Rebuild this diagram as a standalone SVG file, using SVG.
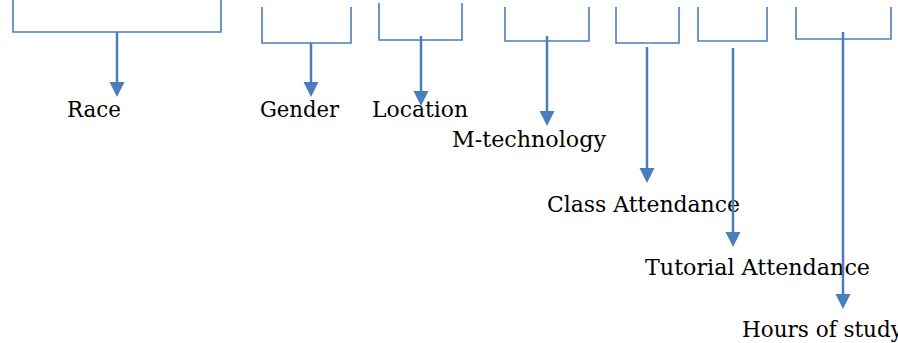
<svg xmlns="http://www.w3.org/2000/svg" width="898" height="343" viewBox="0 0 898 343">
<style>
.box{fill:none;stroke:#4a7ebb;stroke-width:1.6}
.arr{stroke:#4a7ebb;stroke-width:2.5;fill:none}
.lbl{font-family:"DejaVu Serif","Liberation Serif",serif;font-size:21.5px;fill:#000}
</style>
<defs>
<marker id="ah" markerUnits="userSpaceOnUse" markerWidth="18" markerHeight="18" viewBox="0 -9 18 18" refX="0" refY="0" orient="auto">
<path d="M0,-7.5 L15,0 L0,7.5 z" fill="#4a7ebb"/>
</marker>
</defs>
<g id="race"><path class="box" d="M13,-2 V32 H221 V-2"/><text class="lbl" x="67" y="117" textLength="54" lengthAdjust="spacingAndGlyphs">Race</text></g>
<g id="gender"><path class="box" d="M262,7 V43 H351 V7"/><text class="lbl" x="260" y="117" textLength="79" lengthAdjust="spacingAndGlyphs">Gender</text></g>
<g id="location"><path class="box" d="M379,3 V40 H462 V3"/><text class="lbl" x="372" y="117" textLength="96" lengthAdjust="spacingAndGlyphs">Location</text></g>
<g id="mtech"><path class="box" d="M505,7 V41 H589 V7"/><text class="lbl" x="452" y="147" textLength="154" lengthAdjust="spacingAndGlyphs">M-technology</text></g>
<g id="class"><path class="box" d="M616,7 V43 H679 V7"/><text class="lbl" x="547" y="212" textLength="193" lengthAdjust="spacingAndGlyphs">Class Attendance</text></g>
<g id="tutorial"><path class="box" d="M698,7 V41 H767 V7"/><text class="lbl" x="645" y="275" textLength="225" lengthAdjust="spacingAndGlyphs">Tutorial Attendance</text></g>
<g id="hours"><path class="box" d="M796,7 V39 H891 V7"/><text class="lbl" x="742" y="337">Hours of study</text></g>
<g id="connectors">
<line class="arr" x1="117" y1="32" x2="117" y2="82" marker-end="url(#ah)"/>
<line class="arr" x1="311" y1="43" x2="311" y2="82" marker-end="url(#ah)"/>
<line class="arr" x1="421" y1="36" x2="421" y2="91" marker-end="url(#ah)"/>
<line class="arr" x1="547" y1="36" x2="547" y2="111" marker-end="url(#ah)"/>
<line class="arr" x1="647" y1="47" x2="647" y2="168" marker-end="url(#ah)"/>
<line class="arr" x1="733" y1="48" x2="733" y2="232" marker-end="url(#ah)"/>
<line class="arr" x1="843" y1="32" x2="843" y2="294" marker-end="url(#ah)"/>
</g>
</svg>
